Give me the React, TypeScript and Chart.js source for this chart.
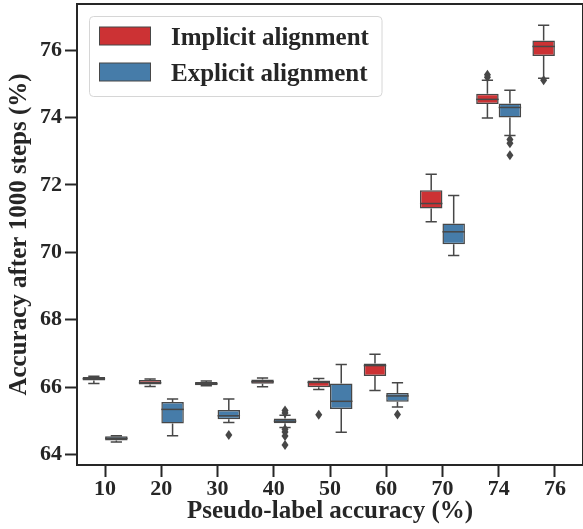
import React, { useEffect, useRef } from 'react';
import { Chart, registerables } from 'chart.js';

Chart.register(...registerables);

const categories = ['10', '20', '30', '40', '50', '60', '70', '74', '76'];
const yTicks = [64, 66, 68, 70, 72, 74, 76];

const implicitQ1 = [66.2, 66.08, 66.06, 66.1, 66.0, 66.33, 71.3, 74.4, 75.83];
const implicitMedian = [66.25, 66.13, 66.1, 66.16, 66.14, 66.64, 71.45, 74.54, 76.11];
const implicitQ3 = [66.3, 66.21, 66.15, 66.23, 66.2, 66.7, 71.84, 74.71, 76.29];
const implicitLow = [66.11, 66.02, 66.04, 66.01, 65.93, 65.9, 70.91, 73.99, 75.17];
const implicitHigh = [66.32, 66.24, 66.18, 66.27, 66.26, 66.98, 72.32, 75.11, 76.74];
const implicitOutliers: number[][] = [[], [], [], [], [65.18], [], [], [75.27, 75.2], [75.11]];

const explicitQ1 = [64.42, 64.92, 65.05, 64.93, 65.35, 65.57, 70.24, 74.0, null];
const explicitMedian = [64.48, 65.34, 65.15, 64.99, 65.58, 65.74, 70.61, 74.3, null];
const explicitQ3 = [64.54, 65.56, 65.32, 65.07, 66.11, 65.83, 70.86, 74.42, null];
const explicitLow = [64.37, 64.56, 64.95, 64.8, 64.66, 65.41, 69.91, 73.47, null];
const explicitHigh = [64.56, 65.65, 65.65, 65.17, 66.67, 66.13, 71.69, 74.81, null];
const explicitOutliers: number[][] = [[], [], [64.58], [65.31, 65.23, 64.75, 64.67, 64.55, 64.28], [], [65.19], [], [73.35, 73.24, 72.88], []];

const RED = '#cc3234';
const BLUE = '#467ca9';
const LINE = '#474747';
const AXIS = '#262626';
const FONT = "'Liberation Serif', 'Times New Roman', serif";

export default function App() {
  const ref = useRef<HTMLCanvasElement>(null);

  useEffect(() => {
    document.body.style.margin = '0';
    const canvas = ref.current;
    if (!canvas) return;

    const stats = [
      { label: 'Implicit alignment', color: RED, q1: implicitQ1, med: implicitMedian, q3: implicitQ3, lo: implicitLow, hi: implicitHigh, out: implicitOutliers },
      { label: 'Explicit alignment', color: BLUE, q1: explicitQ1, med: explicitMedian, q3: explicitQ3, lo: explicitLow, hi: explicitHigh, out: explicitOutliers },
    ];

    const boxPlugin = {
      id: 'boxExtras',
      beforeDatasetsDraw(chart: any) {
        const ctx = chart.ctx;
        const ys = chart.scales.y;
        ctx.save();
        ctx.strokeStyle = LINE;
        ctx.lineWidth = 1.5;
        stats.forEach((s, di) => {
          const meta = chart.getDatasetMeta(di);
          meta.data.forEach((el: any, j: number) => {
            if (s.q1[j] == null) return;
            const x = el.x;
            const w = el.width;
            const yq1 = ys.getPixelForValue(s.q1[j]);
            const yq3 = ys.getPixelForValue(s.q3[j]);
            const ylo = ys.getPixelForValue(s.lo[j]);
            const yhi = ys.getPixelForValue(s.hi[j]);
            ctx.beginPath();
            ctx.moveTo(x, yq3);
            ctx.lineTo(x, yhi);
            ctx.moveTo(x - w / 4, yhi);
            ctx.lineTo(x + w / 4, yhi);
            ctx.moveTo(x, yq1);
            ctx.lineTo(x, ylo);
            ctx.moveTo(x - w / 4, ylo);
            ctx.lineTo(x + w / 4, ylo);
            ctx.stroke();
          });
        });
        ctx.restore();
      },
      afterDatasetsDraw(chart: any) {
        const ctx = chart.ctx;
        const ys = chart.scales.y;
        ctx.save();
        ctx.strokeStyle = LINE;
        ctx.fillStyle = LINE;
        ctx.lineWidth = 1.5;
        stats.forEach((s, di) => {
          const meta = chart.getDatasetMeta(di);
          meta.data.forEach((el: any, j: number) => {
            if (s.q1[j] == null) return;
            const x = el.x;
            const w = el.width;
            const ym = ys.getPixelForValue(s.med[j]);
            ctx.beginPath();
            ctx.moveTo(x - w / 2, ym);
            ctx.lineTo(x + w / 2, ym);
            ctx.stroke();
            (s.out[j] || []).forEach((v) => {
              const yv = ys.getPixelForValue(v);
              ctx.beginPath();
              ctx.moveTo(x, yv - 5);
              ctx.lineTo(x + 3.5, yv);
              ctx.lineTo(x, yv + 5);
              ctx.lineTo(x - 3.5, yv);
              ctx.closePath();
              ctx.fill();
            });
          });
        });
        ctx.restore();
      },
      afterDraw(chart: any) {
        const ctx = chart.ctx;
        const a = chart.chartArea;
        ctx.save();
        // top and right spines
        ctx.strokeStyle = AXIS;
        ctx.lineWidth = 2;
        ctx.beginPath();
        ctx.moveTo(a.left - 1, a.top);
        ctx.lineTo(a.right, a.top);
        ctx.moveTo(a.right, a.top);
        ctx.lineTo(a.right, a.bottom);
        ctx.stroke();

        // legend
        ctx.beginPath();
        ctx.fillStyle = 'rgba(255,255,255,0.8)';
        ctx.strokeStyle = '#d6d6d6';
        ctx.lineWidth = 1;
        (ctx as any).roundRect(89.5, 16.5, 292.5, 80, 4);
        ctx.fill();
        ctx.stroke();
        const rows = [27, 63];
        stats.forEach((s, i) => {
          ctx.fillStyle = chart.data.datasets[i].backgroundColor;
          ctx.fillRect(99.5, rows[i], 51, 18);
          ctx.strokeStyle = LINE;
          ctx.lineWidth = 1;
          ctx.strokeRect(99.5, rows[i], 51, 18);
          ctx.fillStyle = AXIS;
          ctx.font = `bold 25px ${FONT}`;
          ctx.textBaseline = 'alphabetic';
          ctx.textAlign = 'left';
          ctx.fillText(chart.data.datasets[i].label, 171, rows[i] + 18);
        });
        ctx.restore();
      },
    };

    const chart = new Chart(canvas, {
      type: 'bar',
      data: {
        labels: categories,
        datasets: stats.map((s) => ({
          label: s.label,
          data: categories.map((_, j) => (s.q1[j] == null ? null : [s.q1[j], s.q3[j]])) as any,
          backgroundColor: s.color,
          borderColor: LINE,
          borderWidth: 1.5,
          borderSkipped: false,
          categoryPercentage: 0.8,
          barPercentage: 1.0,
        })),
      },
      options: {
        responsive: false,
        animation: false,
        events: [],
        layout: { padding: { top: 4, right: 0, left: 0, bottom: 0 } },
        plugins: {
          legend: { display: false },
          tooltip: { enabled: false },
        },
        scales: {
          x: {
            type: 'category',
            offset: true,
            grid: {
              display: true,
              drawOnChartArea: false,
              drawTicks: true,
              offset: false,
              tickLength: 12,
              tickWidth: 2,
              tickColor: AXIS,
            },
            border: { display: true, width: 2, color: AXIS },
            ticks: {
              color: AXIS,
              padding: 1,
              maxRotation: 0,
              autoSkip: false,
              font: { family: FONT, size: 22, weight: 'bold', lineHeight: 1 },
            },
            title: {
              display: true,
              text: 'Pseudo-label accuracy (%)',
              color: AXIS,
              padding: { top: 0, bottom: 2 },
              font: { family: FONT, size: 25, weight: 'bold', lineHeight: 1.2 },
            },
            afterFit(s: any) {
              s.height = 64;
              s.paddingLeft = 0;
              s.paddingRight = 0;
            },
          },
          y: {
            type: 'linear',
            min: 63.69,
            max: 77.37,
            grid: {
              display: true,
              drawOnChartArea: false,
              drawTicks: true,
              tickLength: 12,
              tickWidth: 2,
              tickColor: AXIS,
            },
            border: { display: true, width: 2, color: AXIS },
            ticks: {
              color: AXIS,
              padding: 3,
              font: { family: FONT, size: 22, weight: 'bold', lineHeight: 1 },
            },
            afterBuildTicks(s: any) {
              s.ticks = yTicks.map((v) => ({ value: v }));
            },
            title: {
              display: true,
              text: 'Accuracy after 1000 steps (%)',
              color: AXIS,
              padding: { top: 5, bottom: 0 },
              font: { family: FONT, size: 25, weight: 'bold', lineHeight: 1.2 },
            },
            afterFit(s: any) {
              s.width = 77;
              s.paddingTop = 0;
              s.paddingBottom = 0;
            },
          },
        },
      },
      plugins: [boxPlugin],
    } as any);

    return () => chart.destroy();
  }, []);

  return (
    <div style={{ width: 583, height: 529, background: '#fff' }}>
      <canvas ref={ref} width={583} height={529} style={{ display: 'block', width: 583, height: 529 }} />
    </div>
  );
}
